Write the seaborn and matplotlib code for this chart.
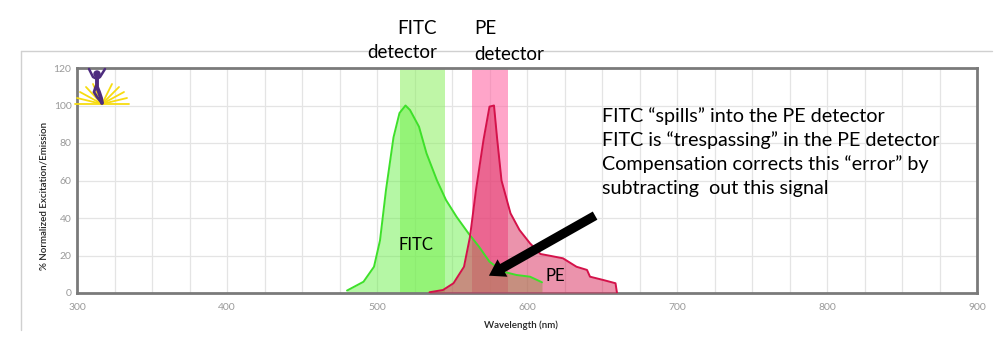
import numpy as np
import pandas as pd
import matplotlib
matplotlib.use("Agg")
import matplotlib.pyplot as plt
import seaborn as sns
from matplotlib.lines import Line2D
from matplotlib.patches import Circle

# Emission spectra (wavelength in nm, % normalized emission)
fitc_wl = [480, 491, 498, 502, 506, 511, 515, 519, 522, 528, 533, 540, 546,
           553, 561, 568, 575, 584, 593, 602, 610]
fitc_em = [1.3, 6, 14, 28, 55, 83, 96, 100, 97.6, 88.7, 74.5, 60, 49.6,
           40.7, 31.8, 24.7, 16.7, 11.4, 9.6, 8.7, 5.7]

pe_wl = [535, 544, 551, 558, 562, 566, 571, 575, 578, 580, 583, 589, 595,
         602, 609, 615, 624, 633, 640, 642, 651, 659, 660]
pe_em = [0.4, 1.6, 5.2, 14, 30, 55, 81.6, 99.4, 100, 83, 60, 42.5, 33.6,
         26.5, 20.8, 19.9, 18.5, 14, 12.3, 8.7, 6.9, 5.2, 0]

# Detector band-pass windows (nm)
fitc_band = (515, 545)
pe_band = (563, 587)

x_ticks = [300, 400, 500, 600, 700, 800, 900]
y_ticks = [0, 20, 40, 60, 80, 100, 120]

notes = ["FITC \u201cspills\u201d into the PE detector",
         "FITC is \u201ctrespassing\u201d in the PE detector",
         "Compensation corrects this \u201cerror\u201d by",
         "subtracting  out this signal"]

sns.set_theme(style="whitegrid")
plt.rcParams["font.family"] = ["Lato", "DejaVu Sans"]
plt.rcParams["text.color"] = "black"

W, H = 1006, 342
fig = plt.figure(figsize=(W / 100, H / 100), dpi=100)
ax = fig.add_axes([77 / W, 1 - 293 / H, 900 / W, 225 / H])
ax.set_facecolor("white")

# detector windows
ax.axvspan(*fitc_band, color="#8cf060", alpha=0.55, lw=0, zorder=1)
ax.axvspan(*pe_band, color="#ff6aa6", alpha=0.6, lw=0, zorder=1)

fitc = pd.DataFrame({"wl": fitc_wl, "em": fitc_em})
pe = pd.DataFrame({"wl": pe_wl, "em": pe_em})

ax.fill_between(fitc["wl"], fitc["em"], 0, color="#66f044", alpha=0.48, lw=0, zorder=2)
ax.fill_between(pe["wl"], pe["em"], 0, color="#d8285a", alpha=0.5, lw=0, zorder=3)
sns.lineplot(data=fitc, x="wl", y="em", ax=ax, color="#3ee02a", lw=1.4,
             sort=False, zorder=4)
sns.lineplot(data=pe, x="wl", y="em", ax=ax, color="#d4124a", lw=1.4,
             sort=False, zorder=5)

ax.set_xlim(300, 900)
ax.set_ylim(0, 120)
ax.set_xticks(x_ticks)
ax.set_xticks(np.arange(300, 901, 25), minor=True)
ax.set_yticks(y_ticks)
ax.grid(True, which="both", axis="x", color="#e4e4e4", lw=0.9)
ax.grid(True, which="major", axis="y", color="#e4e4e4", lw=0.9)
ax.tick_params(axis="both", which="both", length=0, colors="#9a9a9a",
               labelsize=7.5)
ax.tick_params(axis="x", pad=7)
ax.tick_params(axis="y", pad=4)
for s in ax.spines.values():
    s.set_visible(True)
    s.set_color("#7a7a7a")
    s.set_linewidth(2)

ax.set_xlabel("Wavelength (nm)", fontsize=7, color="#222222", fontweight="semibold")
ax.set_ylabel("% Normalized Excitation/Emission", fontsize=7, color="#222222",
              fontweight="semibold")
ax.yaxis.set_label_coords(-0.032, 0.43)
ax.xaxis.set_label_coords(0.493, -0.12)

# dye labels
ax.text(526, 25.5, "FITC", fontsize=12, ha="center", va="center", zorder=6)
ax.text(619, 9, "PE", fontsize=12, ha="center", va="center", zorder=6)

# explanatory notes
for i, line in enumerate(notes):
    ax.text(650, 94.5 - i * 13, line, fontsize=14.2, ha="left", va="center",
            zorder=6)

# arrow pointing at the spillover region
ax.annotate("", xy=(573, 8.5), xytext=(647, 42),
            arrowprops=dict(arrowstyle="simple,head_length=0.7,head_width=0.9,tail_width=0.42",
                            color="black", mutation_scale=16, lw=0),
            zorder=7)

# overlay in pixel coordinates for headers, frame and logo
ov = fig.add_axes([0, 0, 1, 1], zorder=10)
ov.set_xlim(0, W)
ov.set_ylim(H, 0)
ov.axis("off")
ov.patch.set_alpha(0)

ov.add_line(Line2D([21, 992], [51, 51], color="#d0d0d0", lw=1))
ov.add_line(Line2D([21, 21], [51, 330], color="#d0d0d0", lw=1))

ov.text(437, 28, "FITC", fontsize=13.5, ha="right", va="center")
ov.text(437, 53, "detector", fontsize=13.5, ha="right", va="center")
ov.text(474, 29, "PE", fontsize=13.5, ha="left", va="center")
ov.text(474, 54, "detector", fontsize=13.5, ha="left", va="center")

# logo: yellow burst with a jumping figure
bx, by = 102, 104
for ex, ey in [(75, 104), (77, 98), (80, 92), (86, 87), (93, 84), (112, 84),
               (119, 87), (124, 92), (127, 98), (129, 104)]:
    ov.add_line(Line2D([bx, ex], [by, ey], color="#f7dc10", lw=1.3,
                       solid_capstyle="round"))
purple = "#4e2c7e"
ov.add_patch(Circle((97, 74), 3.0, color=purple))
ov.add_line(Line2D([89, 93, 97, 100, 105], [69, 77, 79, 77, 69], color=purple,
                   lw=1.8, solid_capstyle="round"))
ov.add_line(Line2D([97, 97, 99, 101, 102], [78, 87, 92, 98, 103], color=purple,
                   lw=2.8, solid_capstyle="round"))
ov.add_line(Line2D([96, 94, 97, 102], [86, 92, 97, 103], color=purple,
                   lw=2.0, solid_capstyle="round"))

fig.savefig("out.png", dpi=100)
